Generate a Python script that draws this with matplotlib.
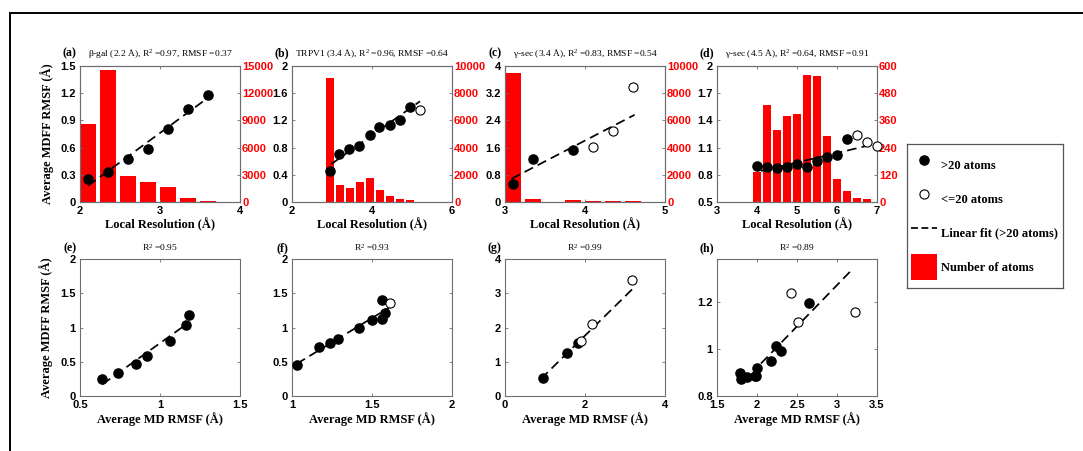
import numpy as np
import matplotlib
matplotlib.use("Agg")
import matplotlib.pyplot as plt
from matplotlib.lines import Line2D
from matplotlib.patches import Patch
from matplotlib.ticker import FuncFormatter

SERIF = ['Liberation Serif', 'DejaVu Serif']
SANS = ['Liberation Sans', 'DejaVu Sans']
plt.rcParams['font.family'] = SANS
plt.rcParams['mathtext.default'] = 'regular'

# ---- data ----
# (a)/(e) beta-gal
a_res = [2.1, 2.35, 2.6, 2.85, 3.1, 3.35, 3.6]
a_mdff = [0.25, 0.33, 0.47, 0.58, 0.81, 1.03, 1.18]
a_md = [0.64, 0.74, 0.85, 0.92, 1.06, 1.16, 1.18]
a_small = [0, 0, 0, 0, 0, 0, 0]
a_bin = [2.1, 2.35, 2.6, 2.85, 3.1, 3.35, 3.6]
a_atoms = [8650, 14600, 2850, 2250, 1600, 420, 120]

# (b)/(f) TRPV1
b_res = [2.95, 3.18, 3.43, 3.68, 3.95, 4.18, 4.44, 4.69, 4.96, 5.2]
b_mdff = [0.45, 0.71, 0.78, 0.83, 0.99, 1.11, 1.13, 1.21, 1.40, 1.36]
b_md = [1.03, 1.17, 1.24, 1.29, 1.42, 1.50, 1.56, 1.58, 1.56, 1.615]
b_small = [0, 0, 0, 0, 0, 0, 0, 0, 0, 1]
b_bin = [2.95, 3.2, 3.45, 3.7, 3.95, 4.2, 4.45, 4.7, 4.95]
b_atoms = [9150, 1250, 1030, 1470, 1740, 900, 460, 240, 120]

# (c)/(g) gamma-sec 3.4 A
c_res = [3.1, 3.35, 3.85, 4.1, 4.35, 4.6]
c_mdff = [0.54, 1.26, 1.54, 1.61, 2.09, 3.39]
c_md = [0.94, 1.54, 1.82, 1.90, 2.17, 3.18]
c_small = [0, 0, 0, 1, 1, 1]
c_bin = [3.1, 3.35, 3.85, 4.1, 4.35, 4.6]
c_atoms = [9450, 230, 130, 70, 60, 60]

# (d)/(h) gamma-sec 4.5 A
d_res = [4.0, 4.25, 4.5, 4.75, 5.0, 5.25, 5.5, 5.75, 6.0, 6.25, 6.5, 6.75, 7.0]
d_mdff = [0.90, 0.885, 0.872, 0.882, 0.92, 0.885, 0.948, 0.993, 1.013, 1.195, 1.238, 1.158, 1.118]
d_md = [1.79, 1.97, 1.80, 1.88, 2.0, 1.99, 2.175, 2.3, 2.24, 2.65, 2.43, 3.22, 2.51]
d_small = [0, 0, 0, 0, 0, 0, 0, 0, 0, 0, 1, 1, 1]
d_bin = [4.0, 4.25, 4.5, 4.75, 5.0, 5.25, 5.5, 5.75, 6.0, 6.25, 6.5, 6.75]
d_atoms = [133, 429, 319, 378, 389, 560, 557, 293, 100, 48, 19, 12]

# extent of the dashed fit lines
fit_top = [(2.1, 3.6), (2.98, 5.2), (3.08, 4.62), (4.1, 7.0)]
fit_bot = [(0.64, 1.18), (1.03, 1.62), (0.9, 3.18), (2.05, 3.2)]

titles_top = ['β-gal (2.2 Å), R$^2$ =0.97, RMSF =0.37',
              'TRPV1 (3.4 Å), R$^2$ =0.96, RMSF =0.64',
              'γ-sec (3.4 Å), R$^2$ =0.83, RMSF =0.54',
              'γ-sec (4.5 Å), R$^2$ =0.64, RMSF =0.91']
titles_bot = ['R$^2$ =0.95', 'R$^2$ =0.93', 'R$^2$ =0.99', 'R$^2$ =0.89']
letters_top = ['(a)', '(b)', '(c)', '(d)']
letters_bot = ['(e)', '(f)', '(g)', '(h)']

res = [a_res, b_res, c_res, d_res]
mdff = [a_mdff, b_mdff, c_mdff, d_mdff]
md = [a_md, b_md, c_md, d_md]
small = [a_small, b_small, c_small, d_small]
bins = [a_bin, b_bin, c_bin, d_bin]
atoms = [a_atoms, b_atoms, c_atoms, d_atoms]

# ---- axis set-up ----
xlim_top = [(2, 4), (2, 6), (3, 5), (3, 7)]
xt_top = [[2, 3, 4], [2, 4, 6], [3, 4, 5], [3, 4, 5, 6, 7]]
ylim_top = [(0, 1.5), (0, 2), (0, 4), (0.5, 2)]
yt_top = [[0, 0.3, 0.6, 0.9, 1.2, 1.5], [0, 0.4, 0.8, 1.2, 1.6, 2],
          [0, 0.8, 1.6, 2.4, 3.2, 4], [0.5, 0.8, 1.1, 1.4, 1.7, 2]]
rlim_top = [(0, 15000), (0, 10000), (0, 10000), (0, 600)]
rt_top = [[0, 3000, 6000, 9000, 12000, 15000], [0, 2000, 4000, 6000, 8000, 10000],
          [0, 2000, 4000, 6000, 8000, 10000], [0, 120, 240, 360, 480, 600]]
xlim_bot = [(0.5, 1.5), (1, 2), (0, 4), (1.5, 3.5)]
xt_bot = [[0.5, 1, 1.5], [1, 1.5, 2], [0, 2, 4], [1.5, 2, 2.5, 3, 3.5]]
ylim_bot = [(0, 2), (0, 2), (0, 4), (0.8, 1.385)]
yt_bot = [[0, 0.5, 1, 1.5, 2], [0, 0.5, 1, 1.5, 2], [0, 1, 2, 3, 4], [0.8, 1, 1.2]]

W, H = 1083, 451
fig = plt.figure(figsize=(W / 100, H / 100), dpi=100)
lefts = [80, 292, 505, 717]
AXW = 160
SPINE = '#6e6e6e'
fmt = FuncFormatter(lambda v, p: f'{v:g}')
tickfont = dict(family=SANS, weight='bold', size=8)
labfont = dict(family=SERIF, weight='bold', size=9)
titfont = dict(family=SERIF, size=6.8)
letfont = dict(family=SERIF, weight='bold', size=8.5)


def px_axes(x0, y0, x1, y1):
    return fig.add_axes([x0 / W, 1 - y1 / H, (x1 - x0) / W, (y1 - y0) / H])


def style(ax, right=True):
    for s in ax.spines.values():
        s.set_color(SPINE)
        s.set_linewidth(0.8)
    ax.tick_params(direction='in', length=2.2, width=0.6, color=SPINE,
                   top=True, right=right, pad=3)
    ax.xaxis.set_major_formatter(fmt)
    ax.yaxis.set_major_formatter(fmt)
    for lab in ax.get_xticklabels() + ax.get_yticklabels():
        lab.set_fontproperties(tickfont)


def scatter_fit(ax, x, y, sm, xr):
    x = np.array(x)
    y = np.array(y)
    sm = np.array(sm, dtype=bool)
    big = ~sm
    k, b = np.polyfit(x[big], y[big], 1)
    xf = np.array(xr)
    ax.plot(xf, k * xf + b, color='k', lw=1.25, dashes=(5.5, 3), zorder=3)
    ax.plot(x[big], y[big], 'o', mfc='k', mec='k', ms=6.6, clip_on=False, zorder=4)
    ax.plot(x[sm], y[sm], 'o', mfc='white', mec='k', ms=6.6, mew=0.8,
            clip_on=False, zorder=4)


for i in range(4):
    # top row: MDFF RMSF vs local resolution with atom-count bars
    ax = px_axes(lefts[i], 66, lefts[i] + AXW, 202)
    ax2 = ax.twinx()
    ax2.bar(bins[i], atoms[i], width=0.21, color='#ff0000', edgecolor='none')
    ax2.set_ylim(*rlim_top[i])
    ax2.set_yticks(rt_top[i])
    ax.set_zorder(ax2.get_zorder() + 1)
    ax.patch.set_visible(False)
    scatter_fit(ax, res[i], mdff[i], small[i], fit_top[i])
    ax.set_xlim(*xlim_top[i])
    ax.set_ylim(*ylim_top[i])
    ax.set_xticks(xt_top[i])
    ax.set_yticks(yt_top[i])
    style(ax, right=False)
    style(ax2)
    ax2.tick_params(axis='y', labelcolor='#ff0000', pad=1.5)
    ax.set_title(titles_top[i], fontdict=titfont, pad=7)
    ax.text(-0.02, 1.074, letters_top[i], transform=ax.transAxes, ha='right',
            va='baseline', **letfont)
    ax.set_xlabel('Local Resolution (Å)', **labfont)
    ax.xaxis.set_label_coords(0.5, -0.115)
    if i == 0:
        ax.set_ylabel('Average MDFF RMSF (Å)', **labfont)
        ax.yaxis.set_label_coords(-0.16, 0.5)

    # bottom row: MDFF RMSF vs MD RMSF
    bx = px_axes(lefts[i], 259, lefts[i] + AXW, 396)
    scatter_fit(bx, md[i], mdff[i], small[i], fit_bot[i])
    bx.set_xlim(*xlim_bot[i])
    bx.set_ylim(*ylim_bot[i])
    bx.set_xticks(xt_bot[i])
    bx.set_yticks(yt_bot[i])
    style(bx)
    bx.set_title(titles_bot[i], fontdict=titfont, pad=5.5)
    bx.text(-0.02, 1.055, letters_bot[i], transform=bx.transAxes, ha='right',
            va='baseline', **letfont)
    bx.set_xlabel('Average MD RMSF (Å)', **labfont)
    bx.xaxis.set_label_coords(0.5, -0.12)
    if i == 0:
        bx.set_ylabel('Average MDFF RMSF (Å)', **labfont)
        bx.yaxis.set_label_coords(-0.17, 0.5)

# legend box
lax = px_axes(907, 144, 1063, 288)
lax.set_xticks([])
lax.set_yticks([])
for s in lax.spines.values():
    s.set_color('#555555')
    s.set_linewidth(0.9)
handles = [Line2D([], [], ls='none', marker='o', mfc='k', mec='k', ms=6.6),
           Line2D([], [], ls='none', marker='o', mfc='white', mec='k', ms=6.6, mew=0.8),
           Line2D([], [], color='k', lw=1.25, dashes=(4, 2)),
           Patch(facecolor='#ff0000', edgecolor='none')]
labels = ['>20 atoms', '<=20 atoms', 'Linear fit (>20 atoms)', 'Number of atoms']
lax.legend(handles, labels, loc='center left', frameon=False,
           prop=dict(family=SERIF, weight='bold', size=9),
           handlelength=2.1, handleheight=2.85, labelspacing=0.62,
           handletextpad=0.3, borderpad=0.2, borderaxespad=0.1)

# outer frame (top and left edges only)
fig.add_artist(Line2D([10 / W, 1], [1 - 13 / H, 1 - 13 / H], color='k', lw=1.4))
fig.add_artist(Line2D([10 / W, 10 / W], [1 - 13 / H, 0], color='k', lw=1.4))

fig.savefig('out.png', dpi=100)
